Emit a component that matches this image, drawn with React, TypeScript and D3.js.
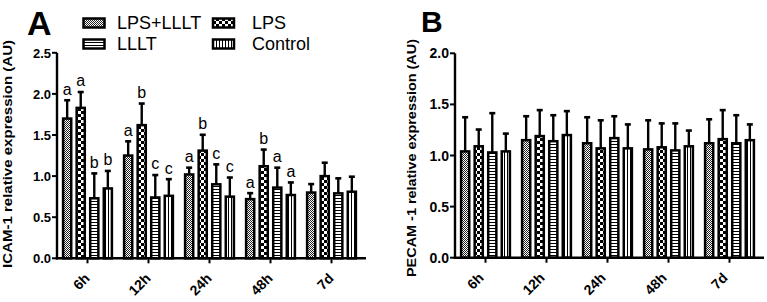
import React from "react";
import * as d3 from "d3";

const categories = ["6h", "12h", "24h", "48h", "7d"];
const seriesNames = ["LPS+LLLT", "LPS", "LLLT", "Control"];

// Panel A: ICAM-1
const icamMean = [
  [1.70, 1.25, 1.02, 0.72, 0.80],
  [1.83, 1.62, 1.31, 1.12, 1.00],
  [0.73, 0.74, 0.90, 0.86, 0.79],
  [0.85, 0.76, 0.75, 0.77, 0.81],
];
const icamSd = [
  [0.23, 0.18, 0.09, 0.08, 0.11],
  [0.20, 0.27, 0.20, 0.21, 0.17],
  [0.31, 0.28, 0.25, 0.25, 0.19],
  [0.22, 0.21, 0.24, 0.16, 0.19],
];
const icamLetters = [
  ["a", "a", "a", "a", ""],
  ["a", "b", "b", "b", ""],
  ["b", "c", "c", "a", ""],
  ["b", "c", "c", "a", ""],
];
const icamTicks = [0, 0.5, 1.0, 1.5, 2.0, 2.5];

// Panel B: PECAM-1
const pecamMean = [
  [1.04, 1.15, 1.12, 1.06, 1.12],
  [1.09, 1.19, 1.07, 1.08, 1.16],
  [1.03, 1.14, 1.17, 1.05, 1.12],
  [1.04, 1.20, 1.07, 1.09, 1.15],
];
const pecamSd = [
  [0.34, 0.24, 0.26, 0.29, 0.24],
  [0.17, 0.26, 0.28, 0.24, 0.29],
  [0.39, 0.26, 0.22, 0.27, 0.28],
  [0.18, 0.24, 0.24, 0.16, 0.16],
];
const pecamTicks = [0, 0.5, 1.0, 1.5, 2.0];

const patternIds = ["pFine", "pChecker", "pHoriz", "pVert"];
const FONT = "'Liberation Sans', Arial, Helvetica, sans-serif";

function Patterns() {
  return (
    <defs>
      <pattern id="pFine" patternUnits="userSpaceOnUse" width={2} height={2}>
        <rect width={2} height={2} fill="#fff" />
        <rect x={0} y={0} width={1} height={1} fill="#222" />
        <rect x={1} y={1} width={1} height={1} fill="#222" />
      </pattern>
      <pattern id="pChecker" patternUnits="userSpaceOnUse" width={6} height={6}>
        <rect width={6} height={6} fill="#fff" />
        <rect x={0} y={0} width={3} height={3} fill="#000" />
        <rect x={3} y={3} width={3} height={3} fill="#000" />
      </pattern>
      <pattern id="pHoriz" patternUnits="userSpaceOnUse" width={3} height={3}>
        <rect width={3} height={3} fill="#fff" />
        <rect x={0} y={0} width={3} height={1} fill="#000" />
      </pattern>
      <pattern id="pVert" patternUnits="userSpaceOnUse" width={3} height={3}>
        <rect width={3} height={3} fill="#fff" />
        <rect x={0} y={0} width={1} height={3} fill="#000" />
      </pattern>
    </defs>
  );
}

type PanelProps = {
  x0: number;
  x1: number;
  y0: number;
  y1: number;
  yMax: number;
  ticks: number[];
  mean: number[][];
  sd: number[][];
  letters?: string[][];
  tickFont: number;
  title: string;
  titleX: number;
  titleY: number;
  titleLen: number;
  labelDx: number;
};

function Panel(p: PanelProps) {
  const y = d3.scaleLinear().domain([0, p.yMax]).range([p.y0, p.y1]);
  const x = d3
    .scaleBand<string>()
    .domain(categories)
    .range([p.x0, p.x1])
    .paddingInner(0.2)
    .paddingOuter(0.1);
  const inner = d3
    .scaleBand<string>()
    .domain(seriesNames)
    .range([0, x.bandwidth()])
    .paddingInner(0.4)
    .paddingOuter(0);
  const bw = inner.bandwidth();
  const fmt = d3.format(".1f");
  return (
    <g fontFamily={FONT}>
      {seriesNames.map((s, si) =>
        categories.map((c, ci) => {
          const m = p.mean[si][ci];
          const top = m + p.sd[si][ci];
          const bx = (x(c) as number) + (inner(s) as number);
          const cx = bx + bw / 2;
          const letter = p.letters ? p.letters[si][ci] : "";
          return (
            <g key={s + c}>
              <line x1={cx} x2={cx} y1={y(m)} y2={y(top)} stroke="#000" strokeWidth={2.4} />
              <line x1={cx - 3} x2={cx + 3} y1={y(top) + 0.6} y2={y(top) + 0.6} stroke="#000" strokeWidth={2.6} />
              <rect
                x={bx}
                y={y(m)}
                width={bw}
                height={p.y0 - y(m)}
                fill={`url(#${patternIds[si]})`}
                stroke="#000"
                strokeWidth={2.5}
              />
              {letter && (
                <text x={cx} y={y(top) - 5} textAnchor="middle" fontSize={16} fill="#000">
                  {letter}
                </text>
              )}
            </g>
          );
        })
      )}
      <line x1={p.x0} x2={p.x0} y1={p.y0 + 1.2} y2={y(p.yMax)} stroke="#000" strokeWidth={2.4} />
      {p.ticks.map((t) => (
        <g key={t}>
          <line x1={p.x0 - 5} x2={p.x0} y1={y(t)} y2={y(t)} stroke="#000" strokeWidth={2} />
          <text x={p.x0 - 6} y={y(t) + 5} textAnchor="end" fontSize={p.tickFont} fontWeight="bold" fill="#000">
            {fmt(t)}
          </text>
        </g>
      ))}
      <line x1={p.x0 - 1.2} x2={p.x1 + 4} y1={p.y0} y2={p.y0} stroke="#000" strokeWidth={2.4} />
      {categories.map((c) => {
        const cx = (x(c) as number) + x.bandwidth() / 2;
        const lx = cx + p.labelDx;
        const ly = p.y0 + 21;
        return (
          <g key={c}>
            <line x1={cx} x2={cx} y1={p.y0} y2={p.y0 + 5} stroke="#000" strokeWidth={2} />
            <text
              x={lx}
              y={ly}
              transform={`rotate(-45 ${lx} ${ly})`}
              textAnchor="end"
              fontSize={14}
              fontWeight="bold"
              fill="#000"
            >
              {c}
            </text>
          </g>
        );
      })}
      <text
        x={p.titleX}
        y={p.titleY}
        transform={`rotate(-90 ${p.titleX} ${p.titleY})`}
        textAnchor="middle"
        fontSize={13}
        fontWeight="bold"
        fill="#000"
        textLength={p.titleLen}
        lengthAdjust="spacingAndGlyphs"
      >
        {p.title}
      </text>
    </g>
  );
}

function Legend() {
  const items = [
    { name: seriesNames[0], pat: patternIds[0], sx: 83.5, tx: 117, y: 18.5 },
    { name: seriesNames[1], pat: patternIds[1], sx: 213, tx: 252, y: 18.5 },
    { name: seriesNames[2], pat: patternIds[2], sx: 83.5, tx: 117, y: 39.5 },
    { name: seriesNames[3], pat: patternIds[3], sx: 213, tx: 252, y: 39.5 },
  ];
  return (
    <g fontFamily={FONT}>
      {items.map((it) => (
        <g key={it.name}>
          <rect x={it.sx} y={it.y} width={21} height={9} fill={`url(#${it.pat})`} stroke="#000" strokeWidth={2.5} />
          <text x={it.tx} y={it.y + 10.5} fontSize={18} fill="#000">
            {it.name}
          </text>
        </g>
      ))}
    </g>
  );
}

export default function App() {
  return (
    <svg
      width={767}
      height={302}
      style={{ position: "absolute", left: 0, top: 0, background: "#fff" }}
    >
      <Patterns />
      <rect width={767} height={302} fill="#fff" />
      <text x={27} y={35} fontFamily={FONT} fontSize={34} fontWeight="bold" fill="#000">
        A
      </text>
      <text x={421} y={31.5} fontFamily={FONT} fontSize={30} fontWeight="bold" fill="#000">
        B
      </text>
      <Legend />
      <Panel
        x0={57}
        x1={362}
        y0={258.3}
        y1={52.8}
        yMax={2.5}
        ticks={icamTicks}
        mean={icamMean}
        sd={icamSd}
        letters={icamLetters}
        tickFont={13}
        title="ICAM-1 relative expression (AU)"
        titleX={12}
        titleY={154}
        titleLen={228}
        labelDx={3}
      />
      <Panel
        x0={455}
        x1={760}
        y0={257.7}
        y1={53.3}
        yMax={2.0}
        ticks={pecamTicks}
        mean={pecamMean}
        sd={pecamSd}
        tickFont={14}
        title="PECAM -1 relative expression (AU)"
        titleX={416}
        titleY={158}
        titleLen={238}
        labelDx={-1}
      />
    </svg>
  );
}
